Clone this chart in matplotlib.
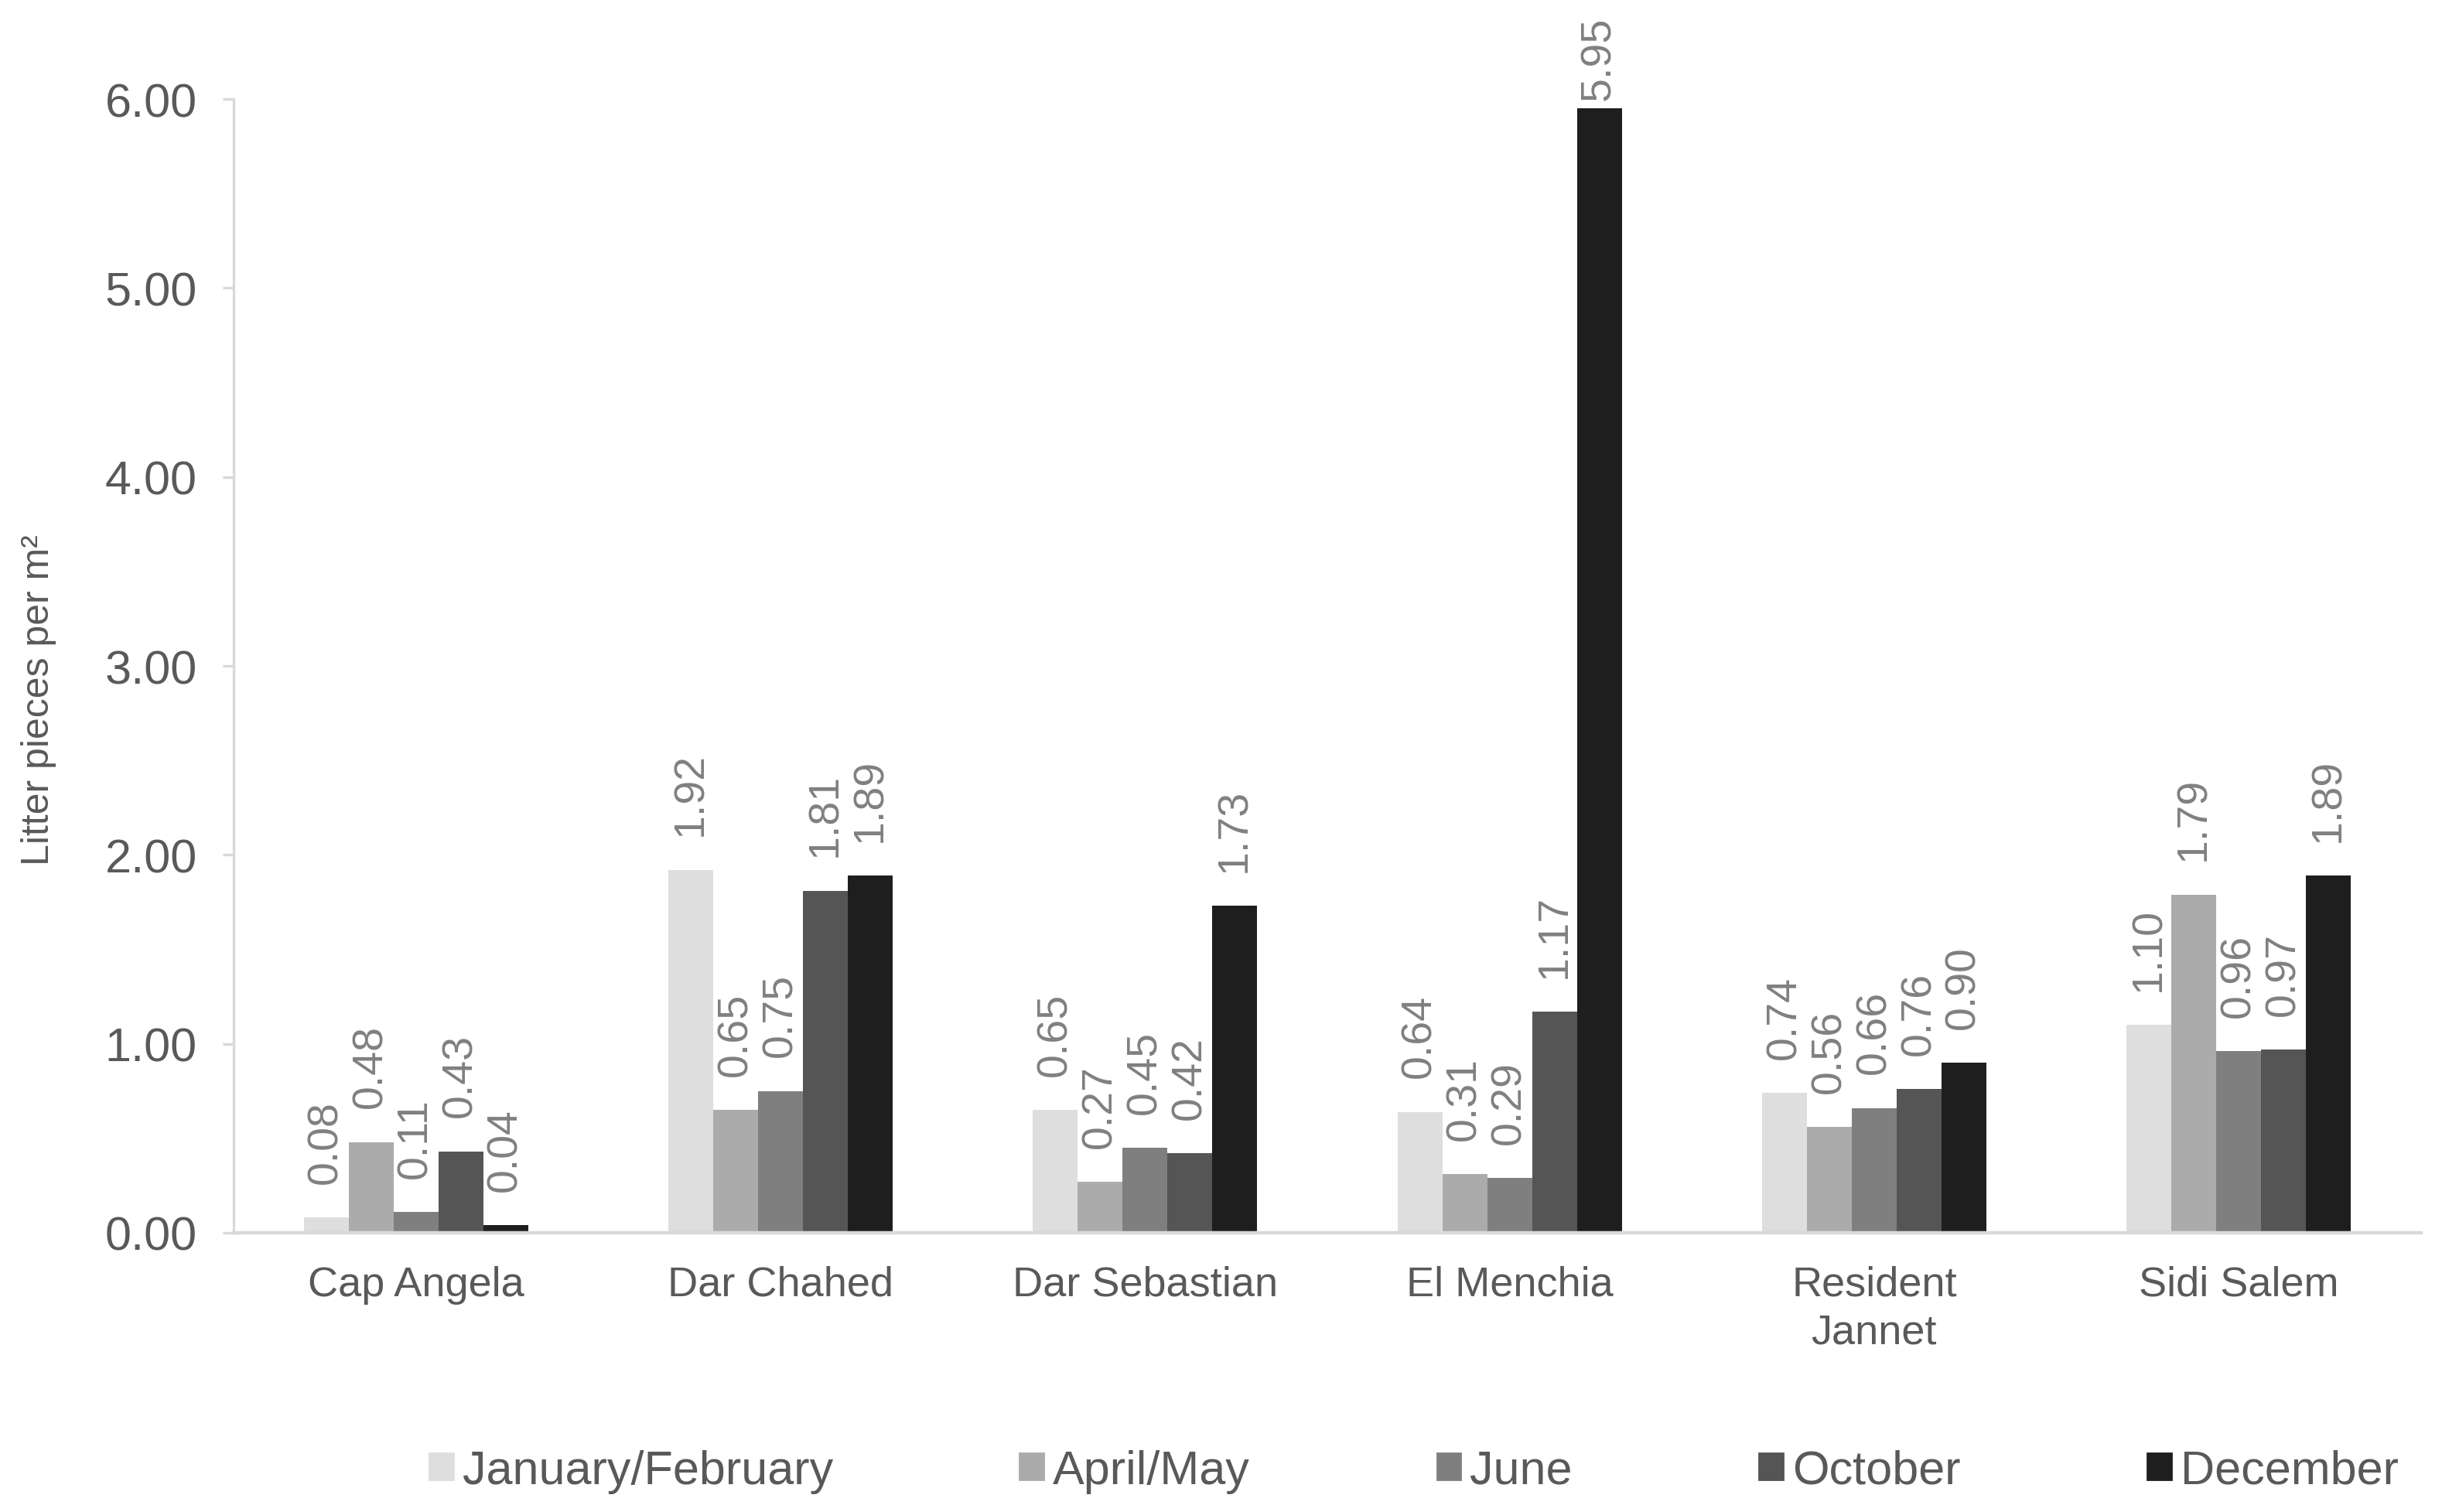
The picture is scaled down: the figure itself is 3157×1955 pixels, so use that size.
import numpy as np
import matplotlib
matplotlib.use("Agg")
import matplotlib.pyplot as plt
import matplotlib.patches as mpatches

plt.rcParams['font.family'] = ['Liberation Sans', 'DejaVu Sans']

# datos
sites = ["Cap Angela", "Dar Chahed", "Dar Sebastian", "El Menchia", "Resident\nJannet", "Sidi Salem"]
seasons = ["January/February", "April/May", "June", "October", "December"]
jan_feb = [0.08, 1.92, 0.65, 0.64, 0.74, 1.10]
apr_may = [0.48, 0.65, 0.27, 0.31, 0.56, 1.79]
june = [0.11, 0.75, 0.45, 0.29, 0.66, 0.96]
october = [0.43, 1.81, 0.42, 1.17, 0.76, 0.97]
december = [0.04, 1.89, 1.73, 5.95, 0.90, 1.89]
series = [jan_feb, apr_may, june, october, december]
yticks = [0, 1, 2, 3, 4, 5, 6]

colors = ['#dedede', '#ababab', '#7f7f7f', '#555555', '#1e1e1e']
axis_color = '#d9d9d9'
text_color = '#595959'
label_color = '#808080'

fig = plt.figure(figsize=(15.785, 9.78), dpi=200)
ax = fig.add_axes([0.0957, 0.1846, 0.8957, 0.7494])

x = np.arange(len(sites))
w = 0.123
for i, (vals, col) in enumerate(zip(series, colors)):
    pos = x + (i - 2) * w
    ax.bar(pos, vals, width=w, color=col, edgecolor='none')
    for px, v in zip(pos, vals):
        off = 16 if v < 5.5 else 4  # la etiqueta alta se baja para caber
        ax.annotate(f"{v:.2f}", (px, v), xytext=(0, off), textcoords='offset points',
                    rotation=90, ha='center', va='bottom', fontsize=20,
                    color=label_color, annotation_clip=False)

ax.set_xlim(-0.5, len(sites) - 0.5)
ax.set_ylim(0, 6)
ax.set_yticks(yticks)
ax.set_yticklabels([f"{t:.2f}" for t in yticks], fontsize=22, color=text_color)
ax.set_xticks(x)
ax.set_xticklabels(sites, fontsize=19.5, color=text_color, linespacing=1.3)
ax.tick_params(axis='x', length=0, pad=15)
ax.tick_params(axis='y', length=5, width=1.2, color=axis_color, pad=12)

for s in ['top', 'right']:
    ax.spines[s].set_visible(False)
ax.spines['left'].set_color(axis_color)
ax.spines['left'].set_linewidth(1.2)
ax.spines['bottom'].set_color(axis_color)
ax.spines['bottom'].set_linewidth(1.6)

fig.text(50 / 3157, 1 - 905 / 1956, "Litter pieces per m²", rotation=90,
         ha='center', va='center', fontsize=18, color=text_color)

handles = [mpatches.Patch(color=c, label=l) for c, l in zip(colors, seasons)]
leg = fig.legend(handles=handles, loc='center', bbox_to_anchor=(0.579, 0.027), ncol=5,
                 frameon=False, handlelength=0.5, handleheight=0.5, handletextpad=0.2,
                 columnspacing=3.95, fontsize=22)
for t in leg.get_texts():
    t.set_color(text_color)

fig.savefig("out.png", dpi=200, facecolor='white')
